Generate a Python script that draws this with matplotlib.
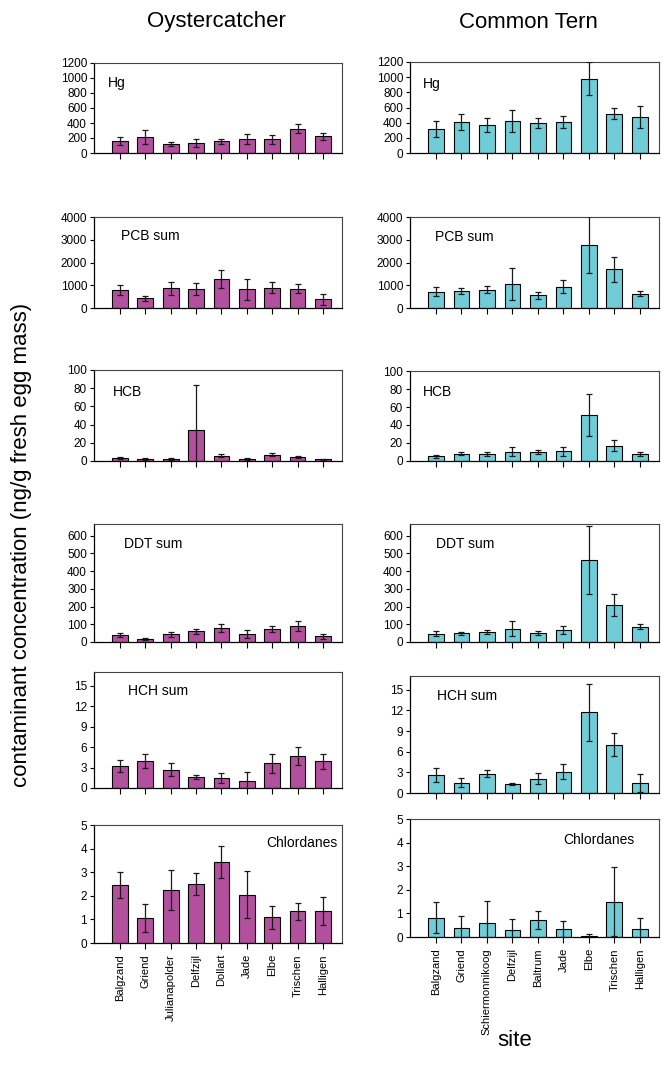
import matplotlib
matplotlib.use("Agg")
import matplotlib.pyplot as plt
import numpy as np

plt.rcParams['font.family'] = ['Liberation Sans', 'DejaVu Sans']

# === DATA ===
oyster_sites = ["Balgzand", "Griend", "Julianapolder", "Delfzijl", "Dollart",
                "Jade", "Elbe", "Trischen", "Halligen"]
tern_sites = ["Balgzand", "Griend", "Schiermonnikoog", "Delfzijl", "Baltrum",
              "Jade", "Elbe", "Trischen", "Halligen"]

compounds = ["Hg", "PCB sum", "HCB", "DDT sum", "HCH sum", "Chlordanes"]

oyster_hg = [160, 210, 120, 130, 155, 190, 185, 325, 220]
oyster_hg_err = [50, 90, 30, 55, 30, 65, 60, 55, 45]
tern_hg = [320, 410, 365, 420, 400, 410, 980, 520, 470]
tern_hg_err = [105, 105, 90, 145, 65, 75, 215, 70, 145]

oyster_pcb = [790, 420, 870, 830, 1270, 820, 900, 850, 380]
oyster_pcb_err = [200, 100, 280, 280, 400, 450, 240, 210, 250]
tern_pcb = [720, 750, 800, 1070, 560, 930, 2780, 1700, 630]
tern_pcb_err = [200, 130, 160, 700, 150, 280, 1250, 550, 120]

oyster_hcb = [3, 2, 2, 34, 6, 2, 7, 4.5, 2]
oyster_hcb_err = [1, 0.8, 1, 49, 1.5, 0.8, 1.5, 1.2, 0.6]
tern_hcb = [5, 8, 7.5, 10.5, 10, 11, 51, 17, 8]
tern_hcb_err = [1.5, 1.5, 2.5, 4.5, 2, 5, 23, 6, 2]

oyster_ddt = [38, 18, 43, 60, 80, 45, 73, 92, 32]
oyster_ddt_err = [10, 4, 13, 15, 23, 22, 17, 28, 15]
tern_ddt = [47, 48, 55, 76, 50, 68, 463, 210, 87]
tern_ddt_err = [13, 6, 10, 45, 10, 22, 190, 62, 14]

oyster_hch = [3.2, 4.0, 2.7, 1.6, 1.5, 1.0, 3.6, 4.7, 3.9]
oyster_hch_err = [0.9, 1.0, 0.95, 0.35, 0.7, 1.4, 1.4, 1.3, 1.1]
tern_hch = [2.6, 1.5, 2.8, 1.3, 2.1, 3.1, 11.7, 7.0, 1.5]
tern_hch_err = [1.0, 0.7, 0.5, 0.15, 0.75, 1.1, 4.2, 1.65, 1.3]

oyster_chl = [2.45, 1.06, 2.23, 2.49, 3.43, 2.05, 1.09, 1.34, 1.36]
oyster_chl_err = [0.56, 0.58, 0.85, 0.46, 0.68, 1.0, 0.48, 0.37, 0.59]
tern_chl = [0.81, 0.40, 0.59, 0.28, 0.72, 0.34, 0.04, 1.50, 0.34]
tern_chl_err = [0.66, 0.48, 0.93, 0.47, 0.38, 0.34, 0.07, 1.47, 0.45]

oyster_vals = [oyster_hg, oyster_pcb, oyster_hcb, oyster_ddt, oyster_hch, oyster_chl]
oyster_errs = [oyster_hg_err, oyster_pcb_err, oyster_hcb_err, oyster_ddt_err,
               oyster_hch_err, oyster_chl_err]
tern_vals = [tern_hg, tern_pcb, tern_hcb, tern_ddt, tern_hch, tern_chl]
tern_errs = [tern_hg_err, tern_pcb_err, tern_hcb_err, tern_ddt_err,
             tern_hch_err, tern_chl_err]

yticks = [np.arange(0, 1201, 200), np.arange(0, 4001, 1000), np.arange(0, 101, 20),
          np.arange(0, 601, 100), np.arange(0, 16, 3), np.arange(0, 6, 1)]
ylims = [1200, 4000, 100, 665, 17, 5]

# === LAYOUT (pixels) ===
W, H = 663, 1073
# (top, bottom) of each panel for left / right column
rows_left = [(63, 153), (217, 308), (370, 461), (524, 642), (672, 788), (825, 943)]
rows_right = [(62, 153), (217, 308), (371, 461), (524, 642), (676, 793), (819, 937)]
# panel label anchor (axes fraction), left / right column
lab_left = [(0.056, 0.86), (0.11, 0.87), (0.076, 0.84), (0.12, 0.89), (0.137, 0.9), (0.98, 0.91)]
lab_right = [(0.05, 0.84), (0.1, 0.86), (0.05, 0.84), (0.105, 0.89), (0.11, 0.89), (0.9, 0.88)]

OYSTER_COLOR = '#B3509E'
TERN_COLOR = '#70CDD8'

fig = plt.figure(figsize=(W / 100, H / 100), dpi=100)


def make_panel(x0, x1, top, bottom, vals, errs, color, yt, ylim, label, lpos, sites, last):
    ax = fig.add_axes([x0 / W, 1 - bottom / H, (x1 - x0) / W, (bottom - top) / H])
    x = np.arange(len(vals))
    ax.bar(x, vals, width=0.62, color=color, edgecolor='black', linewidth=0.8, zorder=2)
    ax.errorbar(x, vals, yerr=errs, fmt='none', ecolor='#1a1a1a', elinewidth=0.9,
                capsize=2.5, capthick=0.9, zorder=3)
    ax.set_xlim(-1.02, 8.75)
    ax.set_ylim(0, ylim)
    ax.set_yticks(yt)
    ax.set_xticks(x)
    ax.tick_params(axis='y', direction='out', length=3, width=0.8, labelsize=8.5, pad=2)
    ax.tick_params(axis='x', direction='out', length=4, width=0.8, labelsize=8, pad=4)
    if last:
        ax.set_xticklabels(sites, rotation=90)
    else:
        ax.set_xticklabels([])
    for s in ['top', 'right']:
        ax.spines[s].set_color('#444444')
        ax.spines[s].set_linewidth(0.8)
    for s in ['left', 'bottom']:
        ax.spines[s].set_linewidth(0.9)
    ha = 'right' if lpos[0] > 0.5 else 'left'
    ax.text(lpos[0], lpos[1], label, transform=ax.transAxes, ha=ha, va='top', fontsize=10)
    return ax


for i in range(6):
    last = i == 5
    t, b = rows_left[i]
    make_panel(94, 342, t, b, oyster_vals[i], oyster_errs[i], OYSTER_COLOR,
               yticks[i], ylims[i], compounds[i], lab_left[i], oyster_sites, last)
    t, b = rows_right[i]
    make_panel(410, 659, t, b, tern_vals[i], tern_errs[i], TERN_COLOR,
               yticks[i], ylims[i], compounds[i], lab_right[i], tern_sites, last)

fig.text(216 / W, 1 - 22 / H, "Oystercatcher", ha='center', va='center', fontsize=16)
fig.text(528 / W, 1 - 22 / H, "Common Tern", ha='center', va='center', fontsize=16)
fig.text(22 / W, 1 - 545 / H, "contaminant concentration (ng/g fresh egg mass)",
         rotation=90, ha='center', va='center', fontsize=16)
fig.text(515 / W, 1 - 1040 / H, "site", ha='center', va='center', fontsize=16)

fig.savefig("out.png", dpi=100)
